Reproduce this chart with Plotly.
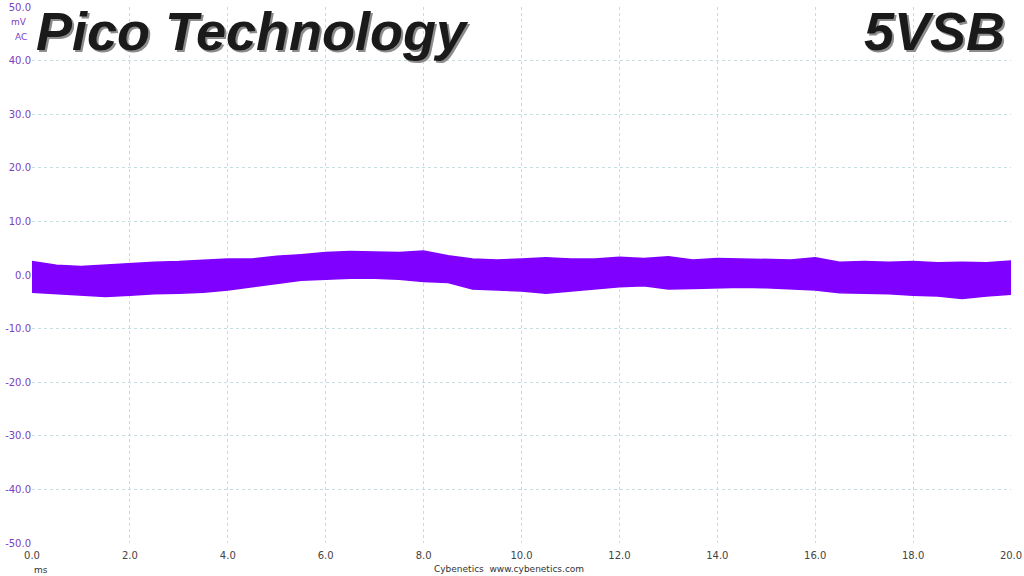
import plotly.graph_objects as go

# time axis (ms) at which the noise envelope was read
t_ms = [0.0, 0.5, 1.0, 1.5, 2.0, 2.5, 3.0, 3.5, 4.0, 4.5, 5.0, 5.5, 6.0, 6.5, 7.0,
        7.5, 8.0, 8.5, 9.0, 9.5, 10.0, 10.5, 11.0, 11.5, 12.0, 12.5, 13.0, 13.5,
        14.0, 14.5, 15.0, 15.5, 16.0, 16.5, 17.0, 17.5, 18.0, 18.5, 19.0, 19.5, 20.0]
# upper envelope of the ripple band (mV)
upper_mv = [2.5, 1.8, 1.6, 1.9, 2.2, 2.4, 2.5, 2.8, 3.0, 3.0, 3.5, 3.8, 4.2, 4.4, 4.3,
            4.2, 4.5, 3.6, 3.0, 2.8, 3.0, 3.2, 3.0, 3.0, 3.3, 3.1, 3.4, 2.8,
            3.1, 3.0, 2.8, 2.8, 3.2, 2.4, 2.5, 2.4, 2.5, 2.3, 2.4, 2.3, 2.6]
# lower envelope of the ripple band (mV)
lower_mv = [-3.2, -3.5, -3.8, -4.0, -3.8, -3.5, -3.4, -3.2, -2.8, -2.2, -1.5, -1.0, -0.8, -0.6, -0.6,
            -0.8, -1.2, -1.4, -2.6, -2.8, -3.0, -3.4, -3.0, -2.6, -2.2, -2.0, -2.6, -2.5,
            -2.4, -2.3, -2.4, -2.6, -2.8, -3.3, -3.4, -3.5, -3.8, -3.9, -4.4, -3.9, -3.6]

y_ticks = [-50, -40, -30, -20, -10, 0, 10, 20, 30, 40, 50]
x_ticks = [0, 2, 4, 6, 8, 10, 12, 14, 16, 18, 20]

trace_color = "#7f00ff"
purple_text = "#7a3fc0"

fig = go.Figure()
fig.add_trace(go.Scatter(x=t_ms, y=lower_mv, mode="lines",
                         line=dict(color=trace_color, width=1.5), showlegend=False))
fig.add_trace(go.Scatter(x=t_ms, y=upper_mv, mode="lines", fill="tonexty",
                         fillcolor=trace_color,
                         line=dict(color=trace_color, width=1.5), showlegend=False))

fig.update_layout(
    width=1024, height=576,
    margin=dict(l=32, r=13, t=7, b=33),
    paper_bgcolor="white", plot_bgcolor="white",
    font=dict(family="Liberation Sans, Arial, sans-serif"),
)
fig.update_xaxes(range=[0, 20], tickvals=x_ticks, automargin=False,
                 ticktext=[f"{v:.1f}" for v in x_ticks],
                 ticklabelstandoff=5,
                 showgrid=True, gridcolor="#cfd9dd", griddash="3px,3px", gridwidth=1,
                 zeroline=False, showline=False, ticks="",
                 tickfont=dict(family="DejaVu Sans, sans-serif", size=10, color="#444444"))
fig.update_yaxes(range=[-50, 50], tickvals=y_ticks, automargin=False,
                 ticktext=[f"{v:.1f}" for v in y_ticks],
                 showgrid=True, gridcolor="#c6e0e2", griddash="3px,3px", gridwidth=1,
                 zeroline=False, showline=False, ticks="",
                 tickfont=dict(family="DejaVu Sans, sans-serif", size=10, color=purple_text))


def ylab(text, ypx):
    fig.add_annotation(text=text, x=0, xref="paper", xanchor="right", xshift=-3,
                       y=1, yref="paper", yanchor="middle", yshift=7 - ypx,
                       showarrow=False,
                       font=dict(family="DejaVu Sans, sans-serif", size=9, color=purple_text))


ylab("mV", 22)
ylab("AC", 37)

fig.add_annotation(text="ms", x=0, xref="paper", xanchor="left", xshift=0,
                   y=0, yref="paper", yanchor="middle", yshift=-27,
                   showarrow=False,
                   font=dict(family="DejaVu Sans, sans-serif", size=9, color="#333333"))
fig.add_annotation(text="Cybenetics  www.cybenetics.com", x=0.5, xref="paper",
                   xanchor="center", xshift=-13,
                   y=0, yref="paper", yanchor="middle", yshift=-26,
                   showarrow=False,
                   font=dict(family="DejaVu Sans, sans-serif", size=9, color="#333333"))


# big titles with a grey shadow
def title(text, xpaper, anchor, xshift):
    for dx, dy, col in [(2, -2, "#8c8c8c"), (0, 0, "#1a1a1a")]:
        fig.add_annotation(text=f"<b><i>{text}</i></b>", x=xpaper, xref="paper",
                           xanchor=anchor, xshift=xshift + dx,
                           y=1, yref="paper", yanchor="middle", yshift=-24 + dy,
                           showarrow=False,
                           font=dict(family="Liberation Sans, Arial, sans-serif",
                                     size=54, color=col))


title("Pico Technology", 0, "left", 2)
title("5VSB", 1, "right", -4)

fig.write_html("out.html", config={"displayModeBar": False},
               post_script="document.body.style.margin='0';document.body.style.padding='0';")
